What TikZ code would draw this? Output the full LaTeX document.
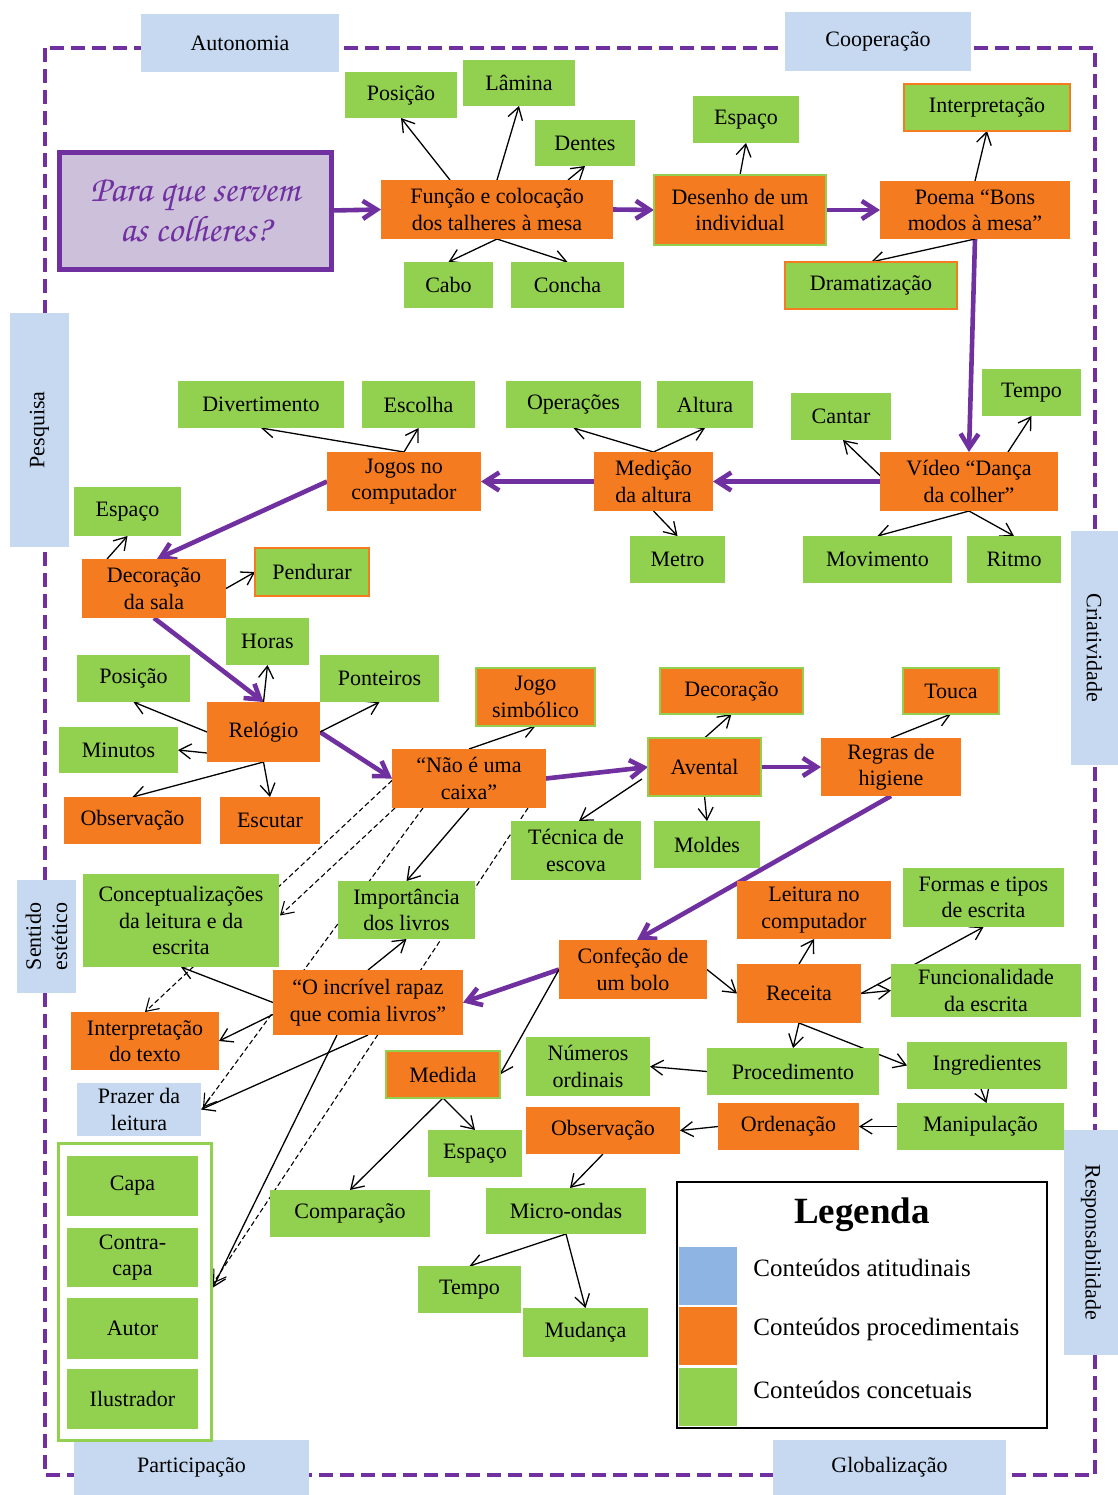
\documentclass[tikz,border=0pt]{standalone}
\usepackage[T1,TU]{fontenc}
\usepackage{fontspec}
\setmainfont{Liberation Serif}
\usetikzlibrary{arrows.meta,calc,backgrounds}
\definecolor{cor}{HTML}{F47B20}
\definecolor{cgr}{HTML}{92D050}
\definecolor{cbl}{HTML}{C6D9F1}
\definecolor{clb}{HTML}{8EB4E3}
\definecolor{cpu}{HTML}{7030A0}
\definecolor{clav}{HTML}{CCC0DA}
\newcommand\chancery{\fontencoding{T1}\fontfamily{pzc}\fontseries{mb}\fontshape{it}\selectfont}

\begin{document}
\begin{tikzpicture}[x=0.5pt,y=-0.5pt,
  rect/.style args={#1/#2/#3/#4}{at={({(#1+#3)/2},{(#2+#4)/2})},
      minimum width={(#3-#1)*0.5pt}, minimum height={(#4-#2)*0.5pt}},
  box/.style={inner sep=0pt, outer sep=0pt, align=center, font=\fontsize{11}{13.2}\selectfont},
  gbox/.style={box, fill=cgr},
  obox/.style={box, fill=cor},
  gob/.style={box, fill=cgr, draw=cor, line width=1.4pt},
  ogb/.style={box, fill=cor, draw=cgr, line width=1.4pt},
  bbox/.style={box, fill=cbl},
  arr/.style={draw=black, line width=0.65pt, -{Straight Barb[length=6pt,width=7.5pt]}},
  parr/.style={draw=cpu, line width=2.3pt, -{Straight Barb[length=7pt,width=9pt]}},
  darr/.style={draw=black, line width=0.55pt, dash pattern=on 2.5pt off 1.5pt, -{Straight Barb[length=6pt,width=7.5pt]}},
]
\useasboundingbox (0,0) rectangle (1118,1495);

% frame labels
\node[bbox, rect=141/14/339/72] (autonomia) {Autonomia};
\node[bbox, rect=785/12/971/71] (cooperacao) {Cooperação};
\node[bbox, rect=10/313/69/547] (pesquisa) {};
\node[box, rotate=90] (pesquisatxt) at (pesquisa.center) {Pesquisa};
\node[bbox, rect=1071/531/1118/765] (criatividade) {};
\node[box, rotate=-90] (criatxt) at (criatividade.center) {Criatividade};
\node[bbox, rect=17/880/76/993] (sentido) {};
\node[box, rotate=90] (sentidotxt) at (sentido.center) {Sentido\\estético};
\node[bbox, rect=1064/1130/1118/1355] (resp) {};
\node[box, rotate=-90] (resptxt) at (resp.center) {Responsabilidade};
\node[bbox, rect=74/1440/309/1495] (particip) {Participação};
\node[bbox, rect=773/1440/1006/1495] (global) {Globalização};

% starting question
\node[box, fill=clav, draw=cpu, line width=2.5pt, rect=59/152/331/269,
      font={\fontsize{18.5}{18}\chancery}, text=cpu] (q) {Para que servem\\as colheres?};

% top row
\node[obox, rect=381/180/613/239] (fn) {Função e colocação\\dos talheres à mesa};
\node[gbox, rect=345/72/457/118] (pos1) {Posição};
\node[gbox, rect=463/60/575/106] (lam) {Lâmina};
\node[gbox, rect=535/120/635/166] (den) {Dentes};
\node[gbox, rect=404/262/493/308] (cabo) {Cabo};
\node[gbox, rect=511/262/624/308] (conc) {Concha};
\node[ogb, rect=654/175/826/245] (des) {Desenho de um\\individual};
\node[gbox, rect=693/96/799/143] (esp1) {Espaço};
\node[obox, rect=880/181/1070/239] (poe) {Poema “Bons\\modos à mesa”};
\node[gob, rect=904/84/1070/131] (intp) {Interpretação};
\node[gob, rect=785/262/957/309] (dram) {Dramatização};

% second row
\node[gbox, rect=982/369/1081/416] (tempo1) {Tempo};
\node[gbox, rect=791/393/891/440] (cantar) {Cantar};
\node[obox, rect=880/452/1058/511] (video) {Vídeo “Dança\\da colher”};
\node[gbox, rect=803/536/952/583] (movim) {Movimento};
\node[gbox, rect=967/536/1061/583] (ritmo) {Ritmo};
\node[obox, rect=594/452/713/511] (medic) {Medição\\da altura};
\node[gbox, rect=506/381/641/428] (oper) {Operações};
\node[gbox, rect=657/381/753/428] (altura) {Altura};
\node[gbox, rect=630/536/725/583] (metro) {Metro};
\node[obox, rect=327/452/481/511] (jogos) {Jogos no\\computador};
\node[gbox, rect=178/381/344/428] (divert) {Divertimento};
\node[gbox, rect=362/381/475/428] (escolha) {Escolha};
\node[gbox, rect=74/487/181/536] (esp2) {Espaço};
\node[obox, rect=82/559/226/618] (decs) {Decoração\\da sala};
\node[gob, rect=255/548/369/596] (pend) {Pendurar};

% third row
\node[gbox, rect=226/618/309/665] (horas) {Horas};
\node[gbox, rect=77/655/190/702] (pos2) {Posição};
\node[gbox, rect=320/655/439/702] (pont) {Ponteiros};
\node[obox, rect=207/702/320/762] (relog) {Relógio};
\node[gbox, rect=59/727/178/773] (minut) {Minutos};
\node[obox, rect=64/797/201/844] (obs1) {Observação};
\node[obox, rect=220/797/320/844] (escut) {Escutar};
\node[ogb, rect=476/668/595/726] (jogosim) {Jogo\\simbólico};
\node[obox, rect=392/749/546/808] (naoe) {“Não é uma\\caixa”};
\node[ogb, rect=660/668/803/714] (decor) {Decoração};
\node[ogb, rect=648/738/761/796] (avent) {Avental};
\node[ogb, rect=903/668/999/714] (touca) {Touca};
\node[obox, rect=821/738/961/796] (regras) {Regras de\\higiene};
\node[gbox, rect=511/821/641/880] (tecn) {Técnica de\\escova};
\node[gbox, rect=654/821/760/868] (moldes) {Moldes};

% lower part
\node[gbox, rect=83/874/279/967] (concep) {Conceptualizações\\da leitura e da\\escrita};
\node[gbox, rect=338/881/475/939] (import) {Importância\\dos livros};
\node[obox, rect=273/970/463/1035] (incr) {“O incrível rapaz\\que comia livros”};
\node[obox, rect=71/1012/219/1070] (interp) {Interpretação\\do texto};
\node[bbox, rect=77/1083/201/1136] (prazer) {Prazer da\\leitura};
\node[obox, rect=559/940/707/999] (confe) {Confeção de\\um bolo};
\node[obox, rect=737/881/891/939] (leit) {Leitura no\\computador};
\node[gbox, rect=903/868/1064/927] (formas) {Formas e tipos\\de escrita};
\node[obox, rect=737/964/861/1023] (receita) {Receita};
\node[gbox, rect=891/964/1081/1017] (func) {Funcionalidade\\da escrita};
\node[gbox, rect=526/1037/650/1096] (numer) {Números\\ordinais};
\node[gbox, rect=707/1048/879/1095] (proced) {Procedimento};
\node[gbox, rect=907/1042/1067/1089] (ingr) {Ingredientes};
\node[ogb, rect=386/1051/500/1098] (medida) {Medida};
\node[gbox, rect=428/1130/522/1177] (esp3) {Espaço};
\node[obox, rect=526/1107/680/1154] (obs2) {Observação};
\node[obox, rect=718/1103/859/1150] (orden) {Ordenação};
\node[gbox, rect=897/1103/1064/1150] (manip) {Manipulação};
\node[gbox, rect=270/1190/430/1237] (compar) {Comparação};
\node[gbox, rect=486/1188/646/1234] (micro) {Micro-ondas};
\node[gbox, rect=418/1266/521/1313] (tempo2) {Tempo};
\node[gbox, rect=523/1308/648/1357] (mudan) {Mudança};

% book parts group
\node[box, fill=white, draw=cgr, line width=1.5pt, rect=58/1143/211/1440] (grp) {};
\node[gbox, rect=67/1156/198/1216] (capa) {Capa};
\node[gbox, rect=67/1228/198/1287] (contra) {Contra-\\capa};
\node[gbox, rect=67/1298/198/1359] (autor) {Autor};
\node[gbox, rect=67/1369/198/1429] (ilus) {Ilustrador};

% legend
\node[box, fill=white, draw=black, line width=1pt, rect=677/1182/1047/1428] (legend) {};
\node[inner sep=0pt, font=\fontsize{18.5}{20}\selectfont\bfseries] (legtitle) at (862,1215) {Legenda};
\node[box, fill=clb, rect=679/1247/737/1305] (swb) {};
\node[box, fill=cor, rect=679/1307/737/1365] (swo) {};
\node[box, fill=cgr, rect=679/1368/737/1426] (swg) {};
\node[inner sep=0pt, anchor=west, font=\fontsize{12.5}{14}\selectfont] (lb) at (753,1268) {Conteúdos atitudinais};
\node[inner sep=0pt, anchor=west, font=\fontsize{12.5}{14}\selectfont] (lo) at (753,1329) {Conteúdos procedimentais};
\node[inner sep=0pt, anchor=west, font=\fontsize{12.5}{14}\selectfont] (lg) at (753,1390) {Conteúdos concetuais};

\begin{pgfonlayer}{background}
  \fill[white] (0,0) rectangle (1118,1495);
  % dashed frame
  \draw[cpu, line width=1.8pt, dash pattern=on 7pt off 3.5pt] (45,48) rectangle (1095,1475);

  % main path
  \draw[parr] (q.east) -- (fn.west);
  \draw[parr] (fn.east) -- (des.west);
  \draw[parr] (des.east) -- (poe.west);
  \draw[parr] (poe.south) -- (video.north);
  \draw[parr] (video.west) -- (medic.east);
  \draw[parr] (medic.west) -- (jogos.east);
  \draw[parr] (jogos.west) -- ($(decs.north)+(3,0)$);
  \draw[parr] (decs.south) -- (relog.north);
  \draw[parr] (relog.east) -- (naoe.west);
  \draw[parr] (naoe.east) -- (avent.west);
  \draw[parr] (avent.east) -- (regras.west);
  \draw[parr] (regras.south) -- ($(confe.north)+(4,0)$);
  \draw[parr] (confe.west) -- (incr.east);

  % branches
  \draw[arr] ($(fn.north)+(-47,0)$) -- (pos1.south);
  \draw[arr] (fn.north) -- (lam.south);
  \draw[arr] ($(fn.north)+(71,0)$) -- (den.south);
  \draw[arr] (fn.south) -- (cabo.north);
  \draw[arr] (fn.south) -- (conc.north);
  \draw[arr] (des.north) -- (esp1.south);
  \draw[arr] (poe.north) -- (intp.south);
  \draw[arr] (poe.south) -- (dram.north);

  \draw[arr] ($(video.west)+(1,-5)$) -- ($(cantar.south)+(2,0)$);
  \draw[arr] ($(video.north)+(39,0)$) -- (tempo1.south);
  \draw[arr] (video.south) -- (movim.north);
  \draw[arr] (video.south) -- (ritmo.north);
  \draw[arr] (medic.north) -- (oper.south);
  \draw[arr] (medic.north) -- (altura.south);
  \draw[arr] (medic.south) -- (metro.north);
  \draw[arr] (jogos.north) -- (divert.south);
  \draw[arr] (jogos.north) -- (escolha.south);
  \draw[arr] ($(decs.north)+(-47,0)$) -- (esp2.south);
  \draw[arr] (decs.east) -- (pend.west);

  \draw[arr] (relog.north) -- (horas.south);
  \draw[arr] (relog.west) -- (pos2.south);
  \draw[arr] ($(relog.west)+(0,21)$) -- (minut.east);
  \draw[arr] (relog.east) -- (pont.south);
  \draw[arr] (relog.south) -- (obs1.north);
  \draw[arr] (relog.south) -- (escut.north);
  \draw[arr] (naoe.north) -- (jogosim.south);
  \draw[arr] (avent.north) -- (decor.south);
  \draw[arr] ($(avent.west)+(-6,12)$) -- ($(tecn.north)+(3,0)$);
  \draw[arr] (avent.south) -- (moldes.north);
  \draw[arr] (regras.north) -- (touca.south);
  \draw[arr] (naoe.south) -- (import.north);

  \draw[arr] (confe.west) -- (medida.east);
  \draw[arr] (confe.east) -- (receita.west);
  \draw[arr] (receita.north) -- (leit.south);
  \draw[arr] (receita.east) -- (formas.south);
  \draw[arr] (receita.east) -- (func.west);
  \draw[arr] (receita.south) -- (proced.north);
  \draw[arr] (receita.south) -- (ingr.west);
  \draw[arr] (proced.west) -- (numer.east);
  \draw[arr] ($(ingr.south)+(-6,0)$) -- ($(manip.north)+(6,0)$);
  \draw[arr] (manip.west) -- (orden.east);
  \draw[arr] (orden.west) -- (obs2.east);
  \draw[arr] (obs2.south) -- ($(micro.north)+(4,0)$);
  \draw[arr] (micro.south) -- (tempo2.north);
  \draw[arr] (micro.south) -- (mudan.north);
  \draw[arr] (medida.south) -- (esp3.north);
  \draw[arr] (medida.south) -- (compar.north);

  \draw[arr] (incr.north) -- (import.south);
  \draw[arr] (incr.west) -- (concep.south);
  \draw[arr] ($(incr.west)+(0,12)$) -- (interp.east);
  \draw[arr] (incr.south) -- (prazer.east);
  \draw[arr] ($(incr.south)+(-31,0)$) -- ($(grp.east)+(2,-4)$);

  % dashed links
  \draw[darr] ($(naoe.west)+(0,2)$) -- (interp.north);
  \draw[darr] ($(naoe.south west)+(3,0)$) -- ($(concep.east)+(1,-5)$);
  \draw[darr] ($(naoe.south)+(-46,0)$) -- ($(prazer.east)+(2,-2)$);
  \draw[darr] ($(naoe.south)+(59,0)$) -- ($(grp.east)+(2,-8)$);
\end{pgfonlayer}
\end{tikzpicture}
\end{document}
